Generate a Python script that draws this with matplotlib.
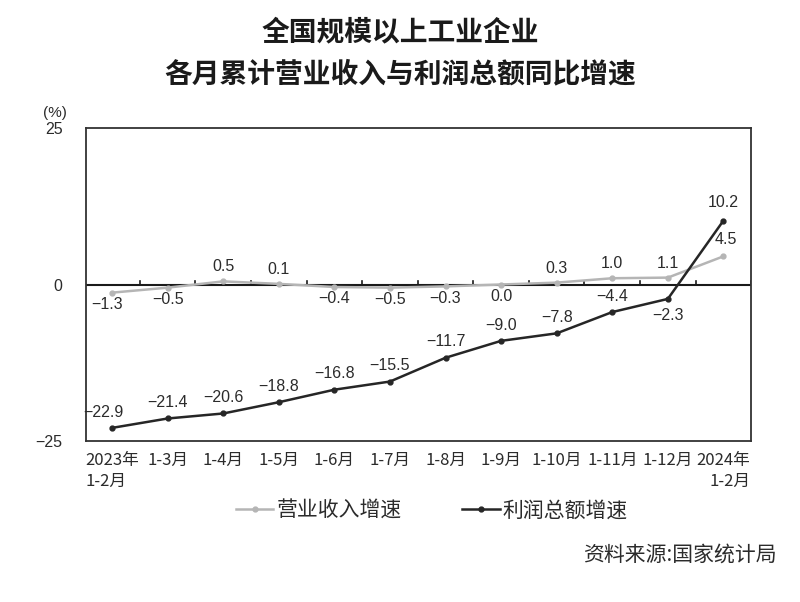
import matplotlib
matplotlib.use("Agg")
import matplotlib.pyplot as plt
from matplotlib.lines import Line2D

plt.rcParams['font.family'] = ['Noto Sans CJK SC', 'DejaVu Sans']
plt.rcParams['axes.unicode_minus'] = False

periods = ["2023年\n1-2月", "1-3月", "1-4月", "1-5月", "1-6月", "1-7月", "1-8月",
           "1-9月", "1-10月", "1-11月", "1-12月", "2024年\n1-2月"]
revenue = [-1.3, -0.5, 0.5, 0.1, -0.4, -0.5, -0.3, 0.0, 0.3, 1.0, 1.1, 4.5]
profit = [-22.9, -21.4, -20.6, -18.8, -16.8, -15.5, -11.7, -9.0, -7.8, -4.4, -2.3, 10.2]
yticks = [-25, 0, 25]

# label offsets (points) for each data label
rev_off = [(-4, -14), (0, -14), (0, 5), (0, 5), (0, -14), (0, -14), (0, -14),
           (0, -14), (0, 5), (0, 5), (0, 5), (2, 7)]
pro_off = [(-6, 6), (0, 6), (0, 6), (0, 6), (0, 6), (0, 6), (0, 6),
           (0, 6), (0, 6), (0, 6), (0, -17), (0, 8)]

text_c = "#2b2b2b"
rev_c = "#b5b5b5"
pro_c = "#262626"
num_font = ["Liberation Sans", "DejaVu Sans"]

fig = plt.figure(figsize=(8, 6.02), dpi=100)
ax = fig.add_axes([0.1075, 0.2674, 0.8315, 0.52])

x = list(range(len(periods)))
ax.axhline(0, color="#1a1a1a", lw=1.5, zorder=2)
# category separators on the zero line
for b in [i + 0.5 for i in x]:
    ax.plot([b, b], [0, 0.6], color="#1a1a1a", lw=1.2, zorder=2)

ax.plot(x, revenue, color=rev_c, lw=1.8, marker="o", ms=3.5, zorder=3)
ax.plot(x, profit, color=pro_c, lw=1.8, marker="o", ms=3.5, zorder=4)

for i, v in enumerate(revenue):
    ax.annotate(f"{v:.1f}".replace("-", "−"), (i, v), xytext=rev_off[i],
                textcoords="offset points", ha="center", va="bottom",
                fontsize=11.5, color=text_c, family=num_font)
for i, v in enumerate(profit):
    ax.annotate(f"{v:.1f}".replace("-", "−"), (i, v), xytext=pro_off[i],
                textcoords="offset points", ha="center", va="bottom",
                fontsize=11.5, color=text_c, family=num_font)

ax.set_xlim(-0.47, 11.5)
ax.set_ylim(-25, 25)
ax.set_yticks(yticks)
ax.set_yticklabels([str(t).replace("-", "−") for t in yticks], fontsize=11.5,
                   color=text_c, family=num_font)
ax.set_xticks(x)
ax.set_xticklabels(periods, fontsize=12, color=text_c, linespacing=1.3)
ax.tick_params(axis="x", length=0, pad=8)
ax.tick_params(axis="y", length=0, pad=17)
labs = ax.get_xticklabels()
labs[0].set_multialignment("left")
labs[-1].set_multialignment("right")
for s in ax.spines.values():
    s.set_color("#333333")
    s.set_linewidth(1.3)

fig.text(0.054, 0.813, "(%)", fontsize=11, color=text_c, family=num_font,
         va="center")

fig.text(0.5, 0.947, "全国规模以上工业企业", ha="center", va="center",
         fontsize=20, fontweight="bold", color="#1a1a1a")
fig.text(0.5, 0.876, "各月累计营业收入与利润总额同比增速", ha="center", va="center",
         fontsize=20, fontweight="bold", color="#1a1a1a")

handles = [Line2D([], [], color=rev_c, lw=1.8, marker="o", ms=3.5),
           Line2D([], [], color=pro_c, lw=1.8, marker="o", ms=3.5)]
fig.legend(handles, ["营业收入增速", "利润总额增速"], loc="center",
           bbox_to_anchor=(0.54, 0.152), ncol=2, frameon=False, fontsize=15,
           handlelength=1.8, handletextpad=0.15, columnspacing=2.9,
           labelcolor=text_c)

fig.text(0.971, 0.078, "资料来源:国家统计局", ha="right", va="center",
         fontsize=15, color=text_c)

fig.savefig("out.png", dpi=100)
